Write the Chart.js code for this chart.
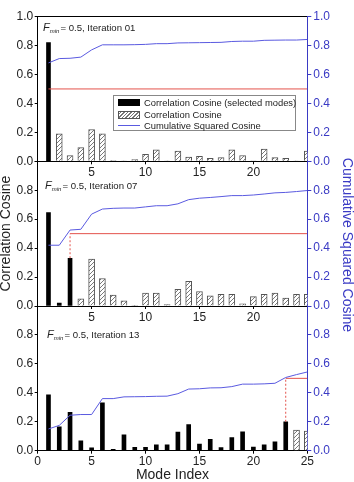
<!DOCTYPE html>
<html><head><meta charset="utf-8">
<script src="https://cdn.jsdelivr.net/npm/chart.js@4.4.1/dist/chart.umd.min.js"></script>
<style>
html,body{margin:0;padding:0;background:#fff;}
#wrap{position:relative;width:354px;height:482px;overflow:hidden;font-family:'Liberation Sans',Arial,sans-serif;}
canvas{position:absolute;left:0;top:0;}
.note{position:absolute;font-size:9.6px;line-height:12px;color:#222;white-space:nowrap;}
.note i{font-size:11px;}
.note sub{font-size:6px;font-style:italic;vertical-align:-2px;margin-right:1px;}
#legend{position:absolute;left:113px;top:95px;width:181px;height:34px;border:1px solid #888;background:#fff;font-size:9.4px;color:#222;}
#legend .row{position:absolute;left:0;height:11px;line-height:11px;white-space:nowrap;}
#legend .sym{position:absolute;left:4px;width:22px;}
#legend .txt{position:absolute;left:30px;top:0;}
</style>
</head><body>
<div id="wrap">
  <canvas id="c1" width="354" height="482"></canvas>
  <canvas id="c2" width="354" height="482"></canvas>
  <canvas id="c3" width="354" height="482"></canvas>
  <div class="note" style="left:43px;top:21px;"><i>F</i><sub>min</sub>= 0.5, Iteration 01</div>
  <div class="note" style="left:45px;top:179px;"><i>F</i><sub>min</sub>= 0.5, Iteration 07</div>
  <div class="note" style="left:47px;top:328px;"><i>F</i><sub>min</sub>= 0.5, Iteration 13</div>
  <div id="legend">
    <div class="row" style="top:1px;width:180px;"><span class="sym" style="top:2px;height:7px;background:#000;"></span><span class="txt">Correlation Cosine (selected modes)</span></div>
    <div class="row" style="top:13px;width:180px;"><span class="sym" style="top:2px;height:6px;border:1px solid #555;width:20px;background:repeating-linear-gradient(-45deg,#fff 0 1.5px,#777 1.5px 2.5px);"></span><span class="txt">Correlation Cosine</span></div>
    <div class="row" style="top:24px;width:180px;"><span class="sym" style="top:5px;height:1px;background:#5a5ae0;"></span><span class="txt">Cumulative Squared Cosine</span></div>
  </div>
</div>
<script>
// ---- data ----
const modeIndex = [1,2,3,4,5,6,7,8,9,10,11,12,13,14,15,16,17,18,19,20,21,22,23,24,25];
const xTicks = [0,5,10,15,20,25];
const yTicks = [0,0.2,0.4,0.6,0.8,1.0];
const fMin = 0.5;
const iterations = ['01','07','13'];
const nSelected = [1, 3, 23];

const cos01 = [0.82,0.19,0.04,0.094,0.22,0.19,0.005,0.003,0.012,0.048,0.08,0.003,0.07,0.03,0.035,0.02,0.025,0.08,0.04,0.003,0.085,0.025,0.02,0.002,0.07];
const cum01 = [0.68,0.71,0.712,0.72,0.77,0.805,0.805,0.805,0.806,0.808,0.813,0.813,0.818,0.819,0.82,0.821,0.822,0.828,0.83,0.83,0.836,0.837,0.838,0.838,0.842];

const cos07 = [0.645,0.02,0.33,0.05,0.325,0.19,0.075,0.035,0.005,0.09,0.09,0.01,0.115,0.17,0.1,0.07,0.08,0.08,0.015,0.065,0.08,0.09,0.055,0.08,0.08];
const cum07 = [0.42,0.42,0.525,0.53,0.635,0.67,0.675,0.677,0.677,0.685,0.693,0.693,0.706,0.735,0.745,0.75,0.756,0.763,0.763,0.767,0.774,0.782,0.785,0.791,0.798];

const cos13 = [0.386,0.165,0.265,0.069,0.02,0.33,0.01,0.11,0.023,0.023,0.04,0.04,0.128,0.18,0.045,0.078,0.022,0.09,0.13,0.025,0.04,0.062,0.2,0.142,0.135];
const cum13 = [0.15,0.175,0.245,0.25,0.25,0.36,0.36,0.372,0.373,0.374,0.376,0.377,0.394,0.426,0.428,0.434,0.435,0.443,0.46,0.46,0.462,0.466,0.506,0.526,0.544];

const cosSets = [cos01, cos07, cos13];
const cumSets = [cum01, cum07, cum13];

// ---- layout / style ----
const FONT = "'Liberation Sans', Arial, sans-serif";
const BLUE_AX = '#3a3ac4';
const BLUE_LN = '#5a5ae0';
const RED = '#e4524c';
const panels = [
  {top:16.6, bottom:161.3, xh:20},
  {top:161.3, bottom:306, xh:20},
  {top:306, bottom:450.7, xh:31.3}
];
const LEFT_W = 37.7, RIGHT_W = 46.7, H = 482;

function makeHatch(ctx){
  const c = document.createElement('canvas'); c.width = 4; c.height = 4;
  const g = c.getContext('2d');
  g.fillStyle = '#fff'; g.fillRect(0,0,4,4);
  g.strokeStyle = '#7a7a7a'; g.lineWidth = 1;
  g.beginPath();
  g.moveTo(0,4); g.lineTo(4,0);
  g.moveTo(-1,1); g.lineTo(1,-1);
  g.moveTo(3,5); g.lineTo(5,3);
  g.stroke();
  return ctx.createPattern(c,'repeat');
}

const rightTitle = {
  id: 'rightTitle',
  afterDraw(chart, args, opts){
    if (!opts || !opts.text) return;
    const ctx = chart.ctx;
    ctx.save();
    ctx.translate(opts.x, opts.y);
    ctx.rotate(Math.PI/2);
    ctx.font = '14px ' + FONT;
    ctx.fillStyle = BLUE_AX;
    ctx.textAlign = 'center';
    ctx.textBaseline = 'middle';
    ctx.fillText(opts.text, 0, 0);
    ctx.restore();
  }
};

function near(a,b){ return Math.abs(a-b) < 1e-6; }

panels.forEach((p, k) => {
  const canvas = document.getElementById('c' + (k+1));
  const ctx = canvas.getContext('2d');
  const cos = cosSets[k], cum = cumSets[k], n = nSelected[k];
  const isLast = k === panels.length - 1;
  const selData = modeIndex.slice(0, n).map((m,i) => ({x:m, y:cos[i]}));
  const otherData = modeIndex.slice(n).map((m,i) => ({x:m, y:cos[n+i]}));
  const cumData = modeIndex.map((m,i) => ({x:m, y:cum[i]}));
  const lastMode = modeIndex[n-1];
  const threshData = [{x:lastMode, y:fMin}, {x:modeIndex[modeIndex.length-1], y:fMin}];
  const datasets = [
    {type:'line', data:threshData, yAxisID:'y2', borderColor:RED, borderWidth:1, pointRadius:0, order:1},
    {type:'line', data:cumData, yAxisID:'y2', borderColor:BLUE_LN, borderWidth:1, pointRadius:0, tension:0, order:0},
    {type:'bar', data:selData, yAxisID:'y', backgroundColor:'#000', borderWidth:0, barThickness:4, grouped:false, order:3},
    {type:'bar', data:otherData, yAxisID:'y', backgroundColor:makeHatch(ctx), borderColor:'#555', borderWidth:1, barThickness:6, grouped:false, order:3}
  ];
  if (cos[n-1] < fMin) {
    datasets.push({type:'line', data:[{x:lastMode, y:cos[n-1]}, {x:lastMode, y:fMin}], yAxisID:'y2',
      borderColor:RED, borderWidth:1, borderDash:[2,2], pointRadius:0, order:2});
  }
  new Chart(canvas, {
    type: 'bar',
    data: { datasets },
    plugins: [rightTitle],
    options: {
      responsive: false, animation: false, events: [],
      layout: { padding: { top: p.top, bottom: H - p.bottom - p.xh, left: 0, right: 0 } },
      plugins: {
        legend: { display: false }, tooltip: { enabled: false },
        rightTitle: k === 1 ? { text: 'Cumulative Squared Cosine', x: 347, y: 245 } : {}
      },
      scales: {
        x: {
          type: 'linear', min: xTicks[0], max: xTicks[xTicks.length-1], offset: false,
          afterBuildTicks: (s) => { s.ticks = xTicks.map(v => ({value: v})); },
          afterFit: (s) => { s.height = p.xh; },
          grid: { drawOnChartArea: false, tickLength: 3, color: '#000', offset: false },
          border: { color: '#000', width: 1 },
          ticks: { padding: 1, color: '#222', font: { size: 12, family: FONT }, maxRotation: 0,
            callback: (v) => (!isLast && (v === xTicks[0] || v === xTicks[xTicks.length-1])) ? '' : String(v) },
          title: { display: isLast, text: 'Mode Index', color: '#222', padding: 0, font: { size: 14, family: FONT, lineHeight: 1 } }
        },
        y: {
          position: 'left', min: 0, max: 1,
          afterBuildTicks: (s) => { s.ticks = yTicks.map(v => ({value: v})); },
          afterFit: (s) => { s.width = LEFT_W; },
          grid: { drawOnChartArea: k === 0, tickLength: 3, tickColor: '#000',
            color: (c) => (c.tick && near(c.tick.value, 1)) ? '#000' : 'rgba(0,0,0,0)' },
          border: { color: '#000', width: 1 },
          ticks: { padding: 1.5, color: '#222', font: { size: 12, family: FONT },
            callback: (v) => (k > 0 && near(v, 1)) ? '' : v.toFixed(1) },
          title: { display: k === 1, text: 'Correlation Cosine', color: '#222', padding: {top: -1, bottom: 0}, font: { size: 14, family: FONT, lineHeight: 1 } }
        },
        y2: {
          position: 'right', min: 0, max: 1,
          afterBuildTicks: (s) => { s.ticks = yTicks.map(v => ({value: v})); },
          afterFit: (s) => { s.width = RIGHT_W; },
          grid: { drawOnChartArea: false, tickLength: 4, color: BLUE_AX },
          border: { color: BLUE_AX, width: 1 },
          ticks: { padding: 2, color: BLUE_AX, font: { size: 12, family: FONT },
            callback: (v) => (k > 0 && near(v, 1)) ? '' : v.toFixed(1) }
        }
      }
    }
  });
});
</script>
</body></html>
